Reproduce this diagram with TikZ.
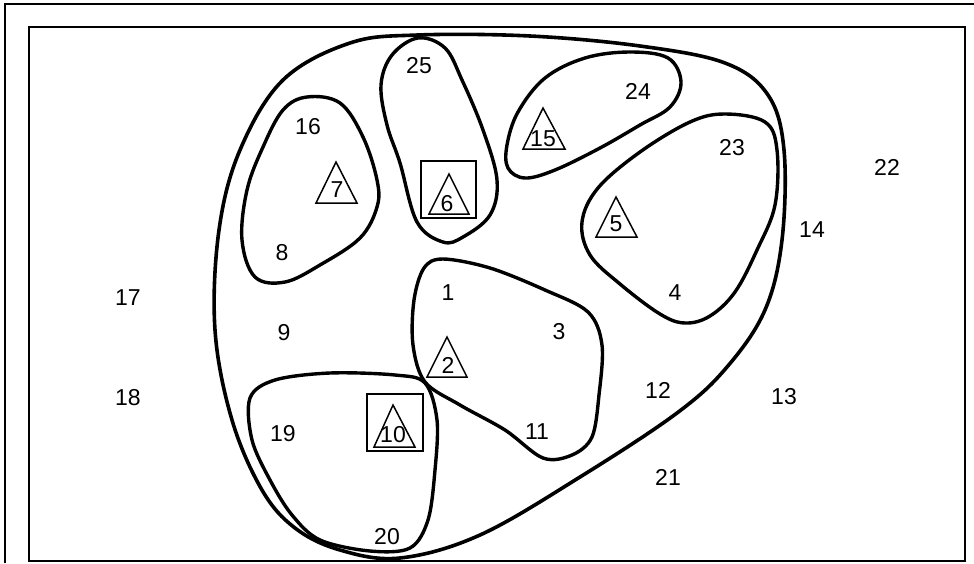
\documentclass[tikz,border=0pt]{standalone}
\usepackage{fontspec}
\setmainfont{Liberation Sans}
\begin{document}
\begin{tikzpicture}[x=1pt,y=-1pt,
  lbl/.style={font=\fontsize{23}{23}\selectfont, inner sep=0pt},
  blob/.style={line width=3.4pt, line join=round},
  outerblob/.style={line width=3.6pt, line join=round},
  tri/.style={line width=1.5pt, line join=miter},
  frameline/.style={line width=1.8pt}]
\useasboundingbox (0,0) rectangle (974,563);
% frame
\draw[frameline] (5,563) -- (5,4) -- (974,4);
\draw[frameline] (29,561) -- (29,27) -- (965,27) -- (965,561) -- cycle;

% outer region
\draw[outerblob] plot[smooth cycle, tension=0.6] coordinates {
 (418,35) (530,36) (640,46) (725,63) (768,95) (784,150) (782,240) (765,310)
 (727,367) (677,413) (580,477) (480,535) (400,558) (340,550) (295,528)
 (262,490) (232,420) (215,330) (219,230) (240,150) (283,80) (350,43)};

% blob 25/6
\draw[blob] plot[smooth cycle, tension=0.6] coordinates {
 (418,38) (445,48) (462,80) (483,130) (497,180) (490,215) (463,237)
 (443,242) (417,222) (400,163) (387,125) (381,85) (392,55)};

% blob 16/7/8
\draw[blob] plot[smooth cycle, tension=0.6] coordinates {
 (307,97) (340,103) (363,137) (377,180) (377,207) (360,238) (320,265)
 (285,282) (255,277) (242,240) (247,190) (263,147) (283,110)};

% blob 15/24
\draw[blob] plot[smooth cycle, tension=0.6] coordinates {
 (507,145) (518,112) (545,78) (585,58) (630,52) (668,58) (681,82)
 (670,107) (640,125) (600,148) (555,170) (525,178) (508,168)};

% blob 23/5/4
\draw[blob] plot[smooth cycle, tension=0.6] coordinates {
 (582,222) (598,188) (640,152) (690,122) (725,114) (765,122) (777,150)
 (775,205) (757,250) (735,292) (710,316) (685,323) (660,314) (620,284) (590,255)};

% blob 1/2/3/11
\draw[blob] plot[smooth cycle, tension=0.55] coordinates {
 (443,259) (490,268) (545,290) (588,312) (602,345) (599,395) (592,437)
 (572,455) (543,458) (505,430) (460,405) (425,382) (413,345) (414,300) (424,268)};

% blob 19/20
\draw[blob] plot[smooth cycle, tension=0.55] coordinates {
 (250,398) (275,380) (330,373) (395,375) (425,383) (437,420) (435,470)
 (428,520) (410,548) (370,551) (320,540) (292,515) (270,480) (252,440)};

% boxes
\draw[tri] (421,161) rectangle (476,218);
\draw[tri] (367,394) rectangle (423,451);
% triangles
\draw[tri] (336,162) -- (357,203) -- (316,203) -- cycle;
\draw[tri] (449,174) -- (469,214) -- (429,214) -- cycle;
\draw[tri] (543,108) -- (565,149) -- (523,149) -- cycle;
\draw[tri] (616,197) -- (637,237) -- (596,237) -- cycle;
\draw[tri] (447,337) -- (467,377) -- (427,377) -- cycle;
\draw[tri] (393,405) -- (415,447) -- (374,447) -- cycle;

% labels
\node[lbl] (n25) at (419,66) {25};
\node[lbl] (n24) at (638,91) {24};
\node[lbl] (n16) at (308,127) {16};
\node[lbl] (n23) at (732,148) {23};
\node[lbl] (n22) at (887,167) {22};
\node[lbl] (n7) at (337,190) {7};
\node[lbl] (n6) at (447,204) {6};
\node[lbl] (n15) at (543,139) {15};
\node[lbl] (n5) at (616,224) {5};
\node[lbl] (n14) at (812,230) {14};
\node[lbl] (n8) at (282,253) {8};
\node[lbl] (n17) at (128,298) {17};
\node[lbl] (n1) at (448,293) {1};
\node[lbl] (n4) at (675,293) {4};
\node[lbl] (n9) at (284,333) {9};
\node[lbl] (n3) at (559,332) {3};
\node[lbl] (n2) at (448,365) {2};
\node[lbl] (n12) at (658,390) {12};
\node[lbl] (n13) at (784,397) {13};
\node[lbl] (n18) at (128,398) {18};
\node[lbl] (n19) at (283,434) {19};
\node[lbl] (n10) at (393,435) {10};
\node[lbl] (n11) at (537,432) {11};
\node[lbl] (n21) at (668,477) {21};
\node[lbl] (n20) at (387,537) {20};
\end{tikzpicture}
\end{document}
